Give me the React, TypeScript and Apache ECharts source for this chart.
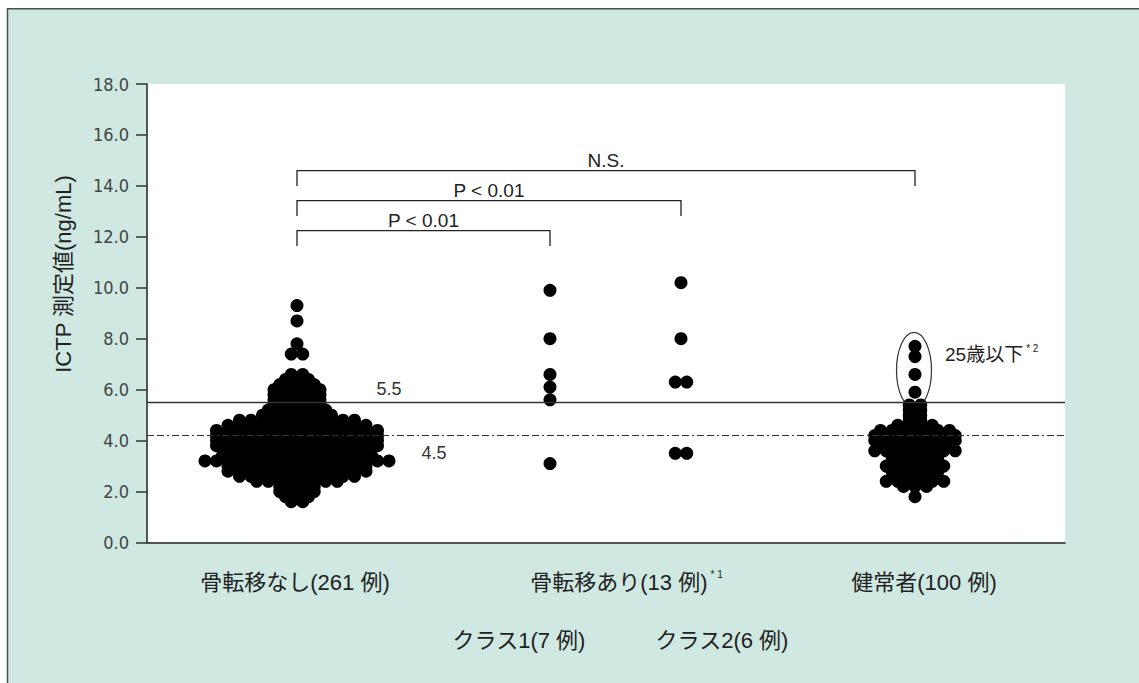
import React, { useEffect, useRef } from "react";
import * as echarts from "echarts";

// ---------- data ----------
const yAxisName = "ICTP 測定値(ng/mL)";
const groupLabels = ["骨転移なし(261 例)", "骨転移あり(13 例)", "健常者(100 例)"];
const groupSuperscripts = ["", "* 1", ""];
const classLabels = ["クラス1(7 例)", "クラス2(6 例)"];
const yMin = 0;
const yMax = 18;
const yInterval = 2;

// [value, number of patients at that value]
const noMetastasis: [number, number][] = [
  [9.3, 1], [8.7, 1], [7.8, 1], [7.4, 2], [6.6, 2], [6.4, 3], [6.2, 4],
  [6.0, 5], [5.8, 5], [5.6, 5], [5.4, 5], [5.3, 3], [5.2, 6], [5.1, 3],
  [5.0, 7], [4.9, 3], [4.8, 11], [4.7, 2], [4.6, 13], [4.5, 2], [4.4, 15],
  [4.3, 3], [4.2, 15], [4.1, 3], [4.0, 15], [3.9, 3], [3.8, 15], [3.7, 2],
  [3.6, 13], [3.5, 2], [3.4, 14], [3.3, 2], [3.2, 17], [3.0, 13], [2.9, 1],
  [2.8, 13], [2.6, 11], [2.4, 8], [2.2, 4], [2.0, 4], [1.8, 3], [1.6, 2],
];
const metastasisClass1: [number, number][] = [
  [9.9, 1], [8.0, 1], [6.6, 1], [6.1, 1], [5.6, 1], [3.1, 1],
];
const metastasisClass2: [number, number][] = [
  [10.2, 1], [8.0, 1], [6.3, 2], [3.5, 2],
];
const healthy: [number, number][] = [
  [7.7, 1], [7.3, 1], [6.6, 1], [5.9, 1],
  [5.4, 2], [5.2, 2], [5.0, 2], [4.8, 2], [4.6, 4], [4.4, 7], [4.2, 8],
  [4.1, 3], [4.0, 8], [3.9, 3], [3.8, 7], [3.6, 8], [3.5, 3], [3.4, 5],
  [3.2, 5], [3.1, 2], [3.0, 6], [2.8, 5], [2.6, 4], [2.4, 6], [2.2, 3],
  [1.8, 1],
];

const upperCutoff = 5.5;
const upperCutoffLabel = "5.5";
const lowerCutoff = 4.2;
const lowerCutoffLabel = "4.5";

// comparison brackets: from column index, to column index, label, height (ng/mL)
const comparisonFrom = [0, 0, 0];
const comparisonTo = [1, 2, 3];
const comparisonLabels = ["P < 0.01", "P < 0.01", "N.S."];
const comparisonLevels = [12.24, 13.42, 14.6];

const youngLabel = "25歳以下";
const youngSup = "* 2";
const youngValues = [7.7, 7.3, 6.6, 5.9];

// ---------- layout ----------
const W = 1139;
const H = 683;
const GRID_LEFT = 147;
const GRID_TOP = 84;
const GRID_W = 918;
const GRID_H = 458.5;
const CENTERS = [150, 403, 534, 768]; // column positions in plot units (= px)
const DOT_SPACING = 11.5;
const DOT_SIZE = 13;
const GREEN = "#cfe8e1";
const TICK_FONT = "'Liberation Sans Narrow', 'DejaVu Sans Condensed', 'Liberation Sans', sans-serif";
const MIX_FONT = "'Liberation Sans', 'Noto Sans CJK JP', sans-serif";
const LAT_FONT = "'Liberation Sans', Arial, sans-serif";

function layoutDots(rows: [number, number][], center: number): number[][] {
  const pts: number[][] = [];
  for (const [v, n] of rows) {
    for (let i = 0; i < n; i++) {
      pts.push([center + (i - (n - 1) / 2) * DOT_SPACING, v]);
    }
  }
  return pts;
}

export default function App() {
  const ref = useRef<HTMLDivElement>(null);
  useEffect(() => {
    if (!ref.current) return;
    const chart = echarts.init(ref.current, null, { renderer: "svg" });
    const groups = [noMetastasis, metastasisClass1, metastasisClass2, healthy];
    const option: any = {
      animation: false,
      backgroundColor: GREEN,
      grid: {
        left: GRID_LEFT,
        top: GRID_TOP,
        width: GRID_W,
        height: GRID_H,
        show: true,
        backgroundColor: "#ffffff",
        borderWidth: 0,
      },
      xAxis: {
        type: "value",
        min: 0,
        max: GRID_W,
        axisLine: { show: true, onZero: false, lineStyle: { color: "#222", width: 1.5 } },
        axisTick: { show: false },
        axisLabel: { show: false },
        splitLine: { show: false },
      },
      yAxis: {
        type: "value",
        min: yMin,
        max: yMax,
        interval: yInterval,
        axisLine: { show: true, lineStyle: { color: "#222", width: 1.5 } },
        axisTick: { show: true, length: 11, lineStyle: { color: "#333", width: 1.5 } },
        axisLabel: {
          margin: 18,
          color: "#444",
          fontSize: 18,
          fontFamily: TICK_FONT,
          formatter: (v: number) => v.toFixed(1),
        },
        splitLine: { show: false },
      },
      series: [
        {
          type: "scatter",
          data: [],
          z: 1,
          silent: true,
          markLine: {
            silent: true,
            symbol: ["none", "none"],
            label: { show: false },
            data: [
              { yAxis: upperCutoff, lineStyle: { type: "solid", color: "#333", width: 1.3 } },
              { yAxis: lowerCutoff, lineStyle: { type: [7, 3, 7, 3, 2, 3], color: "#333", width: 1.2 } },
            ],
          },
        },
        ...groups.map((g, i) => ({
          type: "scatter",
          z: 3,
          symbol: "circle",
          symbolSize: DOT_SIZE,
          itemStyle: { color: "#000", opacity: 1 },
          data: layoutDots(g, CENTERS[i]),
        })),
      ],
    };
    chart.setOption(option);

    const px = (x: number, y: number) => chart.convertToPixel({ gridIndex: 0 }, [x, y]) as number[];
    const graphics: any[] = [];
    // page margin & frame
    graphics.push({ type: "rect", shape: { x: 0, y: 0, width: W, height: 8 }, style: { fill: "#fff" }, silent: true });
    graphics.push({ type: "rect", shape: { x: 0, y: 0, width: 7, height: H }, style: { fill: "#fff" }, silent: true });
    graphics.push({ type: "line", shape: { x1: 7, y1: 8.75, x2: W, y2: 8.75 }, style: { stroke: "#4d4d4d", lineWidth: 1.5 }, silent: true });
    graphics.push({ type: "line", shape: { x1: 7.5, y1: 8, x2: 7.5, y2: H }, style: { stroke: "#4d4d4d", lineWidth: 1.5 }, silent: true });

    // y axis name
    graphics.push({
      type: "text",
      x: 63,
      y: 274,
      rotation: Math.PI / 2,
      style: { text: yAxisName, fill: "#222", font: `22px ${MIX_FONT}`, align: "center", verticalAlign: "middle" },
    });

    // brackets
    const drop = 0.6;
    comparisonLevels.forEach((lvl, i) => {
      const a = px(CENTERS[comparisonFrom[i]], lvl);
      const b = px(CENTERS[comparisonTo[i]], lvl);
      const a2 = px(CENTERS[comparisonFrom[i]], lvl - drop);
      graphics.push({
        type: "polyline",
        shape: { points: [[a[0], a2[1]], [a[0], a[1]], [b[0], b[1]], [b[0], a2[1]]] },
        style: { stroke: "#222", lineWidth: 1.3, fill: null },
        silent: true,
      });
      graphics.push({
        type: "text",
        x: (a[0] + b[0]) / 2,
        y: a[1] - 10,
        style: { text: comparisonLabels[i], fill: "#222", font: `19px ${LAT_FONT}`, align: "center", verticalAlign: "middle" },
      });
    });

    // cutoff labels
    const l55 = px(CENTERS[0] + 92, upperCutoff);
    graphics.push({
      type: "text", x: l55[0], y: l55[1] - 13,
      style: { text: upperCutoffLabel, fill: "#333", font: `18px ${LAT_FONT}`, align: "center", verticalAlign: "middle" },
    });
    const l45 = px(CENTERS[0] + 137, lowerCutoff);
    graphics.push({
      type: "text", x: l45[0], y: l45[1] + 17,
      style: { text: lowerCutoffLabel, fill: "#333", font: `18px ${LAT_FONT}`, align: "center", verticalAlign: "middle" },
    });

    // ellipse around young healthy subjects
    const eTop = px(CENTERS[3], Math.max(...youngValues));
    const eBot = px(CENTERS[3], Math.min(...youngValues));
    graphics.push({
      type: "ellipse",
      shape: { cx: eTop[0] - 1, cy: (eTop[1] + eBot[1]) / 2 + 1, rx: 17.5, ry: (eBot[1] - eTop[1]) / 2 + 15 },
      style: { stroke: "#333", lineWidth: 1.2, fill: null },
      silent: true,
    });
    graphics.push({
      type: "text", x: eTop[0] + 30, y: (eTop[1] + eBot[1]) / 2 - 15,
      style: {
        text: `{a|${youngLabel}}{s|${youngSup}}`,
        align: "left", verticalAlign: "middle",
        rich: {
          a: { font: `19px ${MIX_FONT}`, fill: "#222", lineHeight: 22 },
          s: { font: `10px ${LAT_FONT}`, fill: "#222", verticalAlign: "top", padding: [0, 0, 8, 3] },
        },
      },
    });

    // category labels
    const base = px(0, 0);
    const catY = base[1] + 40;
    const catX = [
      px(CENTERS[0], 0)[0] - 2,
      (px(CENTERS[1], 0)[0] + px(CENTERS[2], 0)[0]) / 2 + 11,
      px(CENTERS[3], 0)[0] + 9,
    ];
    groupLabels.forEach((t, i) => {
      const sup = groupSuperscripts[i];
      graphics.push({
        type: "text", x: catX[i], y: catY,
        style: {
          text: sup ? `{a|${t}}{s|${sup}}` : `{a|${t}}`,
          align: "center", verticalAlign: "middle",
          rich: {
            a: { font: `22px ${MIX_FONT}`, fill: "#222", lineHeight: 26 },
            s: { font: `10px ${LAT_FONT}`, fill: "#222", verticalAlign: "top", padding: [0, 0, 10, 3] },
          },
        },
      });
    });
    const subY = base[1] + 98;
    const subX = [px(CENTERS[1], 0)[0] - 31, px(CENTERS[2], 0)[0] + 41];
    classLabels.forEach((t, i) => {
      graphics.push({
        type: "text", x: subX[i], y: subY,
        style: { text: t, fill: "#222", font: `22px ${MIX_FONT}`, align: "center", verticalAlign: "middle" },
      });
    });

    chart.setOption({ graphic: { elements: graphics } });
    return () => chart.dispose();
  }, []);
  return <div ref={ref} style={{ position: "absolute", left: 0, top: 0, width: W, height: H }} />;
}
